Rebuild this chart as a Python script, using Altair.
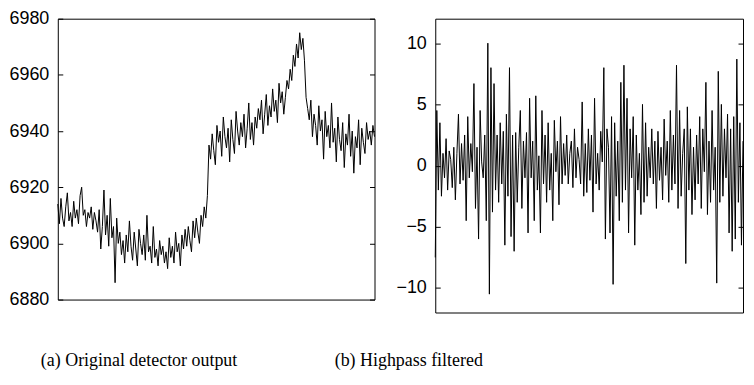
import altair as alt
import pandas as pd

# (a) Original detector output
raw_vals = [
    6914, 6907, 6916, 6909, 6906, 6913, 6918, 6908, 6911, 6906, 6915, 6909, 6912, 6907, 6917, 6920,
    6910, 6912, 6906, 6911, 6909, 6913, 6905, 6911, 6908, 6904, 6912, 6898,
    6906, 6919, 6903, 6910, 6899, 6916, 6902, 6906, 6886, 6909, 6900, 6904,
    6896, 6901, 6893, 6903, 6897, 6908, 6899, 6894, 6904, 6898, 6892, 6905, 6900, 6896, 6903, 6894,
    6910, 6897, 6899, 6893, 6906, 6895, 6898, 6892, 6901, 6896, 6899, 6893, 6897, 6891, 6902, 6895,
    6899, 6893, 6904, 6897, 6900, 6892, 6903, 6898, 6905, 6899, 6906, 6901, 6897, 6908, 6902, 6909,
    6904, 6900,
    6910, 6906, 6913, 6909, 6917,
    6935, 6930, 6939, 6933, 6928, 6942, 6936, 6940, 6931, 6945, 6938, 6934, 6941, 6929, 6944, 6937,
    6932, 6947, 6940, 6935, 6943, 6938, 6946, 6934, 6941, 6950, 6937, 6943, 6935, 6945,
    6941, 6948, 6944, 6951, 6939, 6946, 6953, 6942, 6949, 6945, 6955, 6947, 6951, 6943, 6957, 6950,
    6954, 6946, 6952, 6958,
    6955, 6962, 6958, 6967, 6963, 6971, 6966, 6975, 6969, 6973,
    6965, 6952, 6948,
    6944, 6951, 6938, 6946, 6942, 6935, 6949, 6940, 6944, 6930, 6947, 6938, 6942, 6934, 6950, 6936,
    6941, 6929, 6945, 6937, 6933, 6943, 6927, 6939, 6935, 6946, 6931, 6940, 6925, 6938, 6934, 6944,
    6928, 6941, 6936, 6932, 6943, 6937, 6940, 6935, 6942, 6938,
]

# (b) Highpass filtered
hp_vals = [
    -7.5, 4.5, -2.0, 3.5, -2.5, 1.0, -1.0, 2.2, -2.0, 1.2, 0.5, -1.8, 1.5, -2.8, 1.0, 4.2, -1.5, 1.8, -1.2, 2.5,
    -4.5, 4.0, -1.0, 1.8, -0.5, 6.7, -3.5, 1.5, -6.0, 4.5, 0.3, -1.0, 2.5, -4.5, 10.0, -10.5, 8.0, -3.8, 6.7, -2.0,
    2.5, -3.0, 3.5, -1.5, 2.8, -6.5, 4.2, -2.5, 8.0, -5.8, 2.5, -7.0, 2.7, -3.0, 1.5, 4.5, -3.5, 2.0, -1.0, 2.7,
    -5.5, 5.5, -1.0, 2.0, -4.5, 5.7, -2.0, 0.8, -5.5, 4.5, -1.5, 2.5, -3.0, 3.5, -2.0, 1.0, -4.5, 3.7, -0.5, 2.0,
    -3.2, 4.0, -1.5, 1.8, -0.8, 2.5, -1.5, 1.0, 2.0, -1.8, 3.0, -1.0, 1.5, 0.5, -1.5, 5.2, -2.5, 1.8, -2.2, 3.0,
    -1.2, 2.5, -3.8, 5.5, -1.5, 1.0, -2.0, 2.8, 0.3, 8.0, -6.0, 3.0, 1.5, -5.5, 4.0, -9.7, 3.5, -2.5, 2.0, -4.5,
    6.8, -3.0, 8.2, -2.0, 5.5, -5.5, 3.0, -1.0, 4.0, -6.5, 2.5, -2.0, 1.0, -4.0, 5.0, -3.0, 3.5, -2.5, 1.5, -1.0,
    3.0, -1.5, 2.0, -3.5, 2.8, -1.2, 1.5, -2.8, 3.8, -0.8, 2.0, -3.0, 4.5, -2.0, 2.5, -1.5, 8.2, -3.5, 4.5, -2.5,
    1.0, 3.0, -8.0, 4.8, -2.0, 3.0, -4.0, 1.5, -2.8, 2.5, -1.5, 4.0, -3.5, 3.0, -0.5, 6.8, -4.0, 2.0, -3.0, 4.5,
    -2.0, 1.5, -9.6, 7.7, -3.0, 5.0, -2.5, 3.0, -1.0, 4.2, -5.5, 3.0, -7.0, 4.0, -6.0, 8.7, -3.0, 3.5, -6.5, 2.0,
]

raw_ticks = [6880, 6900, 6920, 6940, 6960, 6980]
hp_ticks = [-10, -5, 0, 5, 10]
captions = ["(a) Original detector output", "(b) Highpass filtered"]

df_raw = pd.DataFrame({"i": list(range(len(raw_vals))), "v": raw_vals})
df_hp = pd.DataFrame({"i": list(range(len(hp_vals))), "v": hp_vals})

LABEL_FONT = "Liberation Sans"
CAP_FONT = "Liberation Serif"


def panel(df, domain, ticks, width, height, caption, cap_dx, cap_offset):
    xenc = alt.X("i:Q", axis=None,
                 scale=alt.Scale(domain=[0, len(df) - 1], nice=False, zero=False))
    yscale = alt.Scale(domain=domain, nice=False, zero=False)
    left = alt.Chart(df).mark_line(color="black", strokeWidth=1).encode(
        x=xenc,
        y=alt.Y("v:Q", scale=yscale, title=None,
                axis=alt.Axis(orient="left", values=ticks, format="d", offset=-5, tickSize=5,
                              tickColor="black", domain=False, grid=False,
                              labelPadding=9, labelFont=LABEL_FONT, labelFontSize=18,
                              labelColor="black")),
    )
    right = alt.Chart(df).mark_line(color="black", strokeOpacity=0).encode(
        x=xenc,
        y=alt.Y("v:Q", scale=yscale, title=None,
                axis=alt.Axis(orient="right", values=ticks, offset=-5, tickSize=5,
                              tickColor="black", domain=False, grid=False, labels=False)),
    )
    return alt.layer(left, right).resolve_axis(y="independent").properties(
        width=width, height=height,
        title=alt.TitleParams(caption, orient="bottom", anchor="start", frame="group",
                              dx=cap_dx, offset=cap_offset, font=CAP_FONT, fontSize=18,
                              fontWeight="normal", color="black", baseline="top"),
    )


p1 = panel(df_raw, [6880, 6980], raw_ticks, 318, 282, captions[0], -17, 44)
p2 = panel(df_hp, [-12, 12], hp_ticks, 309, 295, captions[1], -101, 40)

chart = alt.hconcat(p1, p2, spacing=61, bounds="flush").properties(
    padding={"left": 0, "top": 0, "right": 0, "bottom": 0}
).configure_view(stroke="black", strokeWidth=1)

chart.save("out.html", embed_options={"renderer": "svg", "actions": False})
